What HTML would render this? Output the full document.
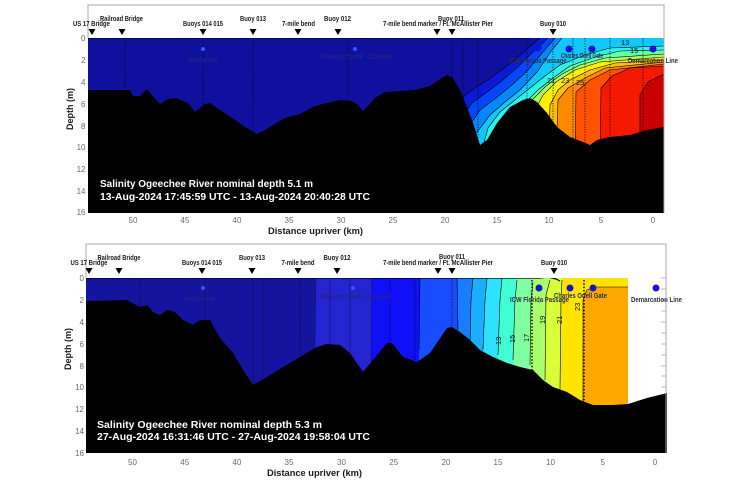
<!DOCTYPE html>
<html><head><meta charset="utf-8"><style>
html,body{margin:0;padding:0;background:#fff;}
svg{display:block;}
text{font-family:"Liberation Sans",Arial,sans-serif;}
.st{font-size:7px;font-weight:bold;fill:#1a1a1a;text-anchor:middle;}
.tk{font-size:8px;fill:#6a6a6a;}
.ax{font-size:9.5px;font-weight:bold;fill:#1a1a1a;}
.ti{font-size:10px;font-weight:bold;fill:#fff;}
.dl{font-size:7px;font-weight:bold;fill:#303040;text-anchor:middle;}
.cl{font-size:7.5px;fill:#111;}
</style></head><body>
<svg width="741" height="486" viewBox="0 0 741 486" xmlns="http://www.w3.org/2000/svg">
<defs>
<clipPath id="c1"><rect x="88" y="38" width="576" height="175"/></clipPath>
<clipPath id="c2"><rect x="86" y="278" width="542" height="175"/></clipPath>
</defs>
<rect width="741" height="486" fill="#fff"/>

<!-- ================= TOP PANEL ================= -->
<g clip-path="url(#c1)">
<rect x="88" y="38" width="576" height="175" fill="#10109e"/>
<polygon fill="#0a1ad6" points="540,38 528,48 512,62 495,75 478,86 465,95 458,105 458,213 664,213 664,38"/>
<polygon fill="#0048ff" points="548,38 535,50 520,65 503,80 487,92 472,103 462,118 462,213 664,213 664,38"/>
<polygon fill="#0088ff" points="555,38 543,52 528,70 512,85 496,98 480,110 468,128 468,213 664,213 664,38"/>
<polygon fill="#10c8ff" points="562,38 552,50 537,72 520,90 505,102 490,115 475,135 470,150 470,213 664,213 664,38"/>
<polygon fill="#2ef2e8" points="482,150 488,128 500,112 515,100 530,88 545,76 560,65 585,55 610,48 664,46 664,213 482,213"/>
<polygon fill="#64ffa8" points="512,160 514,120 523,105 538,90 553,78 570,66 595,57 620,51 664,50 664,213 512,213"/>
<polygon fill="#a8ff5c" points="522,160 524,115 532,100 546,86 562,74 580,65 605,58 664,54 664,213 522,213"/>
<polygon fill="#fff000" points="533,160 535,110 543,95 556,82 575,70 600,62 664,57 664,213 533,213"/>
<polygon fill="#ffc000" points="548,160 550,105 558,90 570,80 590,70 615,63 664,60 664,213 548,213"/>
<polygon fill="#ff8a00" points="556,160 558,100 568,88 585,78 605,68 664,62 664,213 556,213"/>
<polygon fill="#ff5200" points="575,160 576,92 590,80 610,70 664,64 664,213 575,213"/>
<polygon fill="#f41a00" points="600,160 601,88 612,76 630,68 664,66 664,213 600,213"/>
<polygon fill="#c80000" points="640,160 640,95 648,82 664,74 664,213 640,213"/>
<g fill="none" stroke="#000" stroke-width="0.6">
<polyline points="540,38 528,48 512,62 495,75 478,86 465,95 458,105"/>
<polyline points="548,38 535,50 520,65 503,80 487,92 472,103 462,118"/>
<polyline points="555,38 543,52 528,70 512,85 496,98 480,110 468,128"/>
<polyline points="562,38 552,50 537,72 520,90 505,102 490,115 475,135 470,150"/>
<polyline points="482,150 488,128 500,112 515,100 530,88 545,76 560,65 585,55 610,48 664,46"/>
<polyline points="512,160 514,120 523,105 538,90 553,78 570,66 595,57 620,51 664,50"/>
<polyline points="522,160 524,115 532,100 546,86 562,74 580,65 605,58 664,54"/>
<polyline points="533,160 535,110 543,95 556,82 575,70 600,62 664,57"/>
<polyline points="548,160 550,105 558,90 570,80 590,70 615,63 664,60"/>
<polyline points="556,160 558,100 568,88 585,78 605,68 664,62"/>
<polyline points="575,160 576,92 590,80 610,70 664,64"/>
<polyline points="600,160 601,88 612,76 630,68 664,66"/>
<polyline points="640,160 640,95 648,82 664,74"/>
<polyline points="88,38 530,38" stroke-width="1"/>
</g>
<g stroke="#000" stroke-width="0.9" stroke-dasharray="1.2 1.4" opacity="0.85">
<line x1="125" y1="38" x2="125" y2="213"/><line x1="203" y1="38" x2="203" y2="213"/>
<line x1="253" y1="38" x2="253" y2="213"/><line x1="348" y1="38" x2="348" y2="213"/>
<line x1="452" y1="38" x2="452" y2="213"/><line x1="463" y1="38" x2="463" y2="213"/>
<line x1="478" y1="38" x2="478" y2="213"/><line x1="527" y1="38" x2="527" y2="213"/>
<line x1="553" y1="38" x2="553" y2="213"/><line x1="573" y1="38" x2="573" y2="213"/>
<line x1="585" y1="38" x2="585" y2="213"/><line x1="610" y1="38" x2="610" y2="213"/>
<line x1="643" y1="38" x2="643" y2="213"/>
</g>
<text class="cl" x="621" y="45">13</text>
<text class="cl" x="630" y="53">15</text>
<text class="cl" x="547" y="83">21</text>
<text class="cl" x="561" y="83">23</text>
<text class="cl" x="576" y="85">25</text>
<!-- dots -->
<circle cx="203" cy="49" r="2" fill="#3a55ff"/>
<circle cx="355" cy="49" r="2" fill="#3a55ff"/>
<circle cx="538" cy="48" r="3.5" fill="#1414d0"/>
<circle cx="569" cy="49" r="3.5" fill="#1414d0"/>
<circle cx="592" cy="49" r="3.5" fill="#1414d0"/>
<circle cx="653" cy="49" r="3.5" fill="#1414d0"/>
<text class="dl" x="203" y="62" textLength="29" lengthAdjust="spacingAndGlyphs" style="fill:#24248a">Hardwicke</text>
<text class="dl" x="356" y="59" textLength="72" lengthAdjust="spacingAndGlyphs" style="fill:#24248a">Kilkenny Creek - Channel</text>
<text class="dl" x="538" y="63" textLength="57" lengthAdjust="spacingAndGlyphs">ICW Florida Passage</text>
<text class="dl" x="582" y="58" textLength="42" lengthAdjust="spacingAndGlyphs">Charles Odell Gate</text>
<!-- bathymetry -->
<polygon fill="#000" points="88,90 130,90 133,96 140,96 147,89 153,96 160,104 168,99 176,98 188,103 195,112 205,104 210,103 217,108 225,113 235,120 245,127 257,134 265,130 273,125 285,118 300,114 315,106 327,103 340,100 352,101 358,105 363,111 368,106 375,98 385,92 400,91 415,90 430,86 440,79 447,75 453,78 460,90 467,107 473,123 480,145 487,140 497,123 510,107 523,100 530,98 537,102 547,113 557,127 570,137 583,142 590,145 597,140 610,137 630,135 647,130 664,127 664,213 88,213"/>
</g>
<text class="dl" x="653" y="63" textLength="50" lengthAdjust="spacingAndGlyphs">Demarcation Line</text>
<!-- frame -->
<g stroke="#a8a8a8" stroke-width="1" fill="none">
<polyline points="88,38 88,5 664,5 664,213"/>
</g>
<!-- station markers -->
<g fill="#000">
<polygon points="88.5,29 95.5,29 92,35"/><polygon points="118.5,29 125.5,29 122,35"/>
<polygon points="199.5,29 206.5,29 203,35"/><polygon points="249.5,29 256.5,29 253,35"/>
<polygon points="294.5,29 301.5,29 298,35"/><polygon points="334.5,29 341.5,29 338,35"/>
<polygon points="433.5,29 440.5,29 437,35"/><polygon points="448.5,29 455.5,29 452,35"/>
<polygon points="549.5,29 556.5,29 553,35"/>
</g>
<text class="st" x="91.5" y="26" textLength="37" lengthAdjust="spacingAndGlyphs">US 17 Bridge</text>
<text class="st" x="121.5" y="21" textLength="43" lengthAdjust="spacingAndGlyphs">Railroad Bridge</text>
<text class="st" x="203" y="26" textLength="40" lengthAdjust="spacingAndGlyphs">Buoys 014 015</text>
<text class="st" x="253" y="21" textLength="26" lengthAdjust="spacingAndGlyphs">Buoy 013</text>
<text class="st" x="298.5" y="26" textLength="33" lengthAdjust="spacingAndGlyphs">7-mile bend</text>
<text class="st" x="337.5" y="21" textLength="27" lengthAdjust="spacingAndGlyphs">Buoy 012</text>
<text class="st" x="438" y="26" textLength="110" lengthAdjust="spacingAndGlyphs">7-mile bend marker / Ft. McAllister Pier</text>
<text class="st" x="451" y="21" textLength="26" lengthAdjust="spacingAndGlyphs">Buoy 011</text>
<text class="st" x="553" y="26" textLength="26" lengthAdjust="spacingAndGlyphs">Buoy 010</text>
<!-- titles -->
<text class="ti" x="100" y="187" textLength="213" lengthAdjust="spacingAndGlyphs">Salinity Ogeechee River nominal depth 5.1 m</text>
<text class="ti" x="100" y="200" textLength="270" lengthAdjust="spacingAndGlyphs">13-Aug-2024 17:45:59 UTC - 13-Aug-2024 20:40:28 UTC</text>
<!-- y ticks -->
<g class="tk" text-anchor="end">
<text x="85.5" y="41">0</text><text x="85.5" y="63">2</text><text x="85.5" y="85">4</text>
<text x="85.5" y="107">6</text><text x="85.5" y="129">8</text><text x="85.5" y="150">10</text>
<text x="85.5" y="172">12</text><text x="85.5" y="194">14</text><text x="85.5" y="215">16</text>
</g>
<g class="tk" text-anchor="middle">
<text x="133" y="223">50</text><text x="185" y="223">45</text><text x="237" y="223">40</text>
<text x="289" y="223">35</text><text x="341" y="223">30</text><text x="393" y="223">25</text>
<text x="445" y="223">20</text><text x="497" y="223">15</text><text x="549" y="223">10</text>
<text x="601" y="223">5</text><text x="653" y="223">0</text>
</g>
<text class="ax" x="315.5" y="234" text-anchor="middle" textLength="95" lengthAdjust="spacingAndGlyphs">Distance upriver (km)</text>
<text class="ax" transform="translate(73,109) rotate(-90)" text-anchor="middle" style="font-size:9px">Depth (m)</text>

<!-- ================= BOTTOM PANEL ================= -->
<g stroke="#a8a8a8" stroke-width="0.8">
<line x1="661" y1="278" x2="666" y2="278"/><line x1="661" y1="289" x2="666" y2="289"/>
<line x1="661" y1="300" x2="666" y2="300"/><line x1="661" y1="311" x2="666" y2="311"/>
<line x1="661" y1="322" x2="666" y2="322"/><line x1="661" y1="333" x2="666" y2="333"/>
<line x1="661" y1="344" x2="666" y2="344"/><line x1="661" y1="355" x2="666" y2="355"/>
<line x1="661" y1="366" x2="666" y2="366"/><line x1="661" y1="376" x2="666" y2="376"/>
<line x1="661" y1="387" x2="666" y2="387"/>
</g>
<g clip-path="url(#c2)">
<rect x="86" y="278" width="542" height="175" fill="#14149e"/>
<polygon fill="#2424d0" points="316,278 314,400 314,453 628,453 628,278"/>
<polygon fill="#1010f8" points="372,278 371,400 371,453 628,453 628,278"/>
<polygon fill="#1a4cff" points="420,278 419,350 419,453 628,453 628,278"/>
<polygon fill="#1a7cff" points="457,278 458,330 458,453 628,453 628,278"/>
<polygon fill="#1ab0ff" points="473,278 471,300 470,345 470,453 628,453 628,278"/>
<polygon fill="#2ee2ff" points="487,278 485,300 483,350 483,453 628,453 628,278"/>
<polygon fill="#40ffd4" points="502,278 500,300 498,355 498,453 628,453 628,278"/>
<polygon fill="#80ffa0" points="517,280 515,300 513,360 513,453 628,453 628,278 517,278"/>
<polygon fill="#aaff6c" points="533,282 531,300 530,365 530,453 628,453 628,278 533,278"/>
<polygon fill="#d8ff3a" points="550,280 546,295 545,380 545,453 628,453 628,278 550,278"/>
<polygon fill="#ffe400" points="562,280 561,300 560,390 560,453 628,453 628,278 562,278"/>
<polygon fill="#ffa800" points="583,453 583,300 587,290 595,287 628,287 628,453"/>
<g fill="none" stroke="#000" stroke-width="0.6">
<polyline points="316,278 314,400" stroke-opacity="0.4"/>
<polyline points="372,278 371,400" stroke-opacity="0.5"/>
<polyline points="420,278 419,350"/>
<polyline points="457,278 458,330"/>
<polyline points="473,278 471,300 470,345"/>
<polyline points="487,278 485,300 483,350"/>
<polyline points="502,278 500,300 498,355"/>
<polyline points="517,280 515,300 513,360"/>
<polyline points="533,282 531,300 530,365"/>
<polyline points="550,280 546,295 545,380"/>
<polyline points="562,280 561,300 560,390"/>
<polyline points="583,453 583,300 587,290 595,287 628,287"/>
<polyline points="86,278 540,278 548,277 556,279 560,281" stroke-width="1.2"/>
</g>
<g stroke="#000" stroke-width="0.9" stroke-dasharray="1.2 1.4" opacity="0.7">
<line x1="140" y1="278" x2="140" y2="453"/><line x1="205" y1="278" x2="205" y2="453"/>
<line x1="253" y1="278" x2="253" y2="453"/><line x1="263" y1="278" x2="263" y2="453"/>
<line x1="300" y1="278" x2="300" y2="453"/><line x1="330" y1="278" x2="330" y2="453"/>
<line x1="350" y1="278" x2="350" y2="453"/><line x1="390" y1="278" x2="390" y2="453"/>
<line x1="415" y1="278" x2="415" y2="453"/><line x1="452" y1="278" x2="452" y2="453"/>
</g>
<g stroke="#000" stroke-width="1.4" stroke-dasharray="1.5 1.8">
<line x1="532" y1="280" x2="532" y2="453"/><line x1="584" y1="280" x2="584" y2="453"/>
</g>
<text class="cl" transform="translate(501,345) rotate(-90)">13</text>
<text class="cl" transform="translate(515,343) rotate(-90)">15</text>
<text class="cl" transform="translate(529,342) rotate(-90)">17</text>
<text class="cl" transform="translate(545,324) rotate(-90)">19</text>
<text class="cl" transform="translate(562,324) rotate(-90)">21</text>
<text class="cl" transform="translate(580,311) rotate(-90)">23</text>
<circle cx="203" cy="288" r="2" fill="#3a55ff"/>
<circle cx="353" cy="288" r="2" fill="#3a55ff"/>
<text class="dl" x="200" y="301" textLength="31" lengthAdjust="spacingAndGlyphs" style="fill:#24248a">Hardwicke</text>
<text class="dl" x="355" y="299" textLength="71" lengthAdjust="spacingAndGlyphs" style="fill:#24248a">Kilkenny Creek - Channel</text>
<polygon fill="#000" points="86,301 127,300 132,303 140,307 147,305 153,312 160,315 167,310 175,312 183,320 193,325 200,320 210,320 220,338 233,353 243,370 253,385 267,377 283,367 300,357 317,347 327,344 340,345 350,353 363,372 373,360 387,343 392,343 403,357 417,362 430,353 447,328 452,327 460,332 470,340 480,350 493,357 507,363 520,367 533,370 543,380 553,387 567,392 580,400 593,405 613,405 628,404 647,398 667,393 667,453 86,453"/>
</g>
<polygon fill="#000" points="628,404 647,398 667,393 667,453 628,453"/>
<circle cx="539" cy="288" r="3.5" fill="#1414d0"/>
<circle cx="570" cy="288" r="3.5" fill="#1414d0"/>
<circle cx="593" cy="288" r="3.5" fill="#1414d0"/>
<circle cx="656" cy="288" r="3.5" fill="#1414d0"/>
<text class="dl" x="539.5" y="302" textLength="59" lengthAdjust="spacingAndGlyphs">ICW Florida Passage</text>
<text class="dl" x="580.5" y="298" textLength="53" lengthAdjust="spacingAndGlyphs">Charles Odell Gate</text>
<text class="dl" x="656.5" y="302" textLength="51" lengthAdjust="spacingAndGlyphs">Demarcation Line</text>
<g stroke="#a8a8a8" stroke-width="1" fill="none">
<polyline points="86,278 86,244 666,244 666,453"/>
</g>
<g fill="#000">
<polygon points="85.5,268 92.5,268 89,274"/><polygon points="115.5,268 122.5,268 119,274"/>
<polygon points="198.5,268 205.5,268 202,274"/><polygon points="248.5,268 255.5,268 252,274"/>
<polygon points="294.5,268 301.5,268 298,274"/><polygon points="333.5,268 340.5,268 337,274"/>
<polygon points="434.5,268 441.5,268 438,274"/><polygon points="448.5,268 455.5,268 452,274"/>
<polygon points="550.5,268 557.5,268 554,274"/>
</g>
<text class="st" x="89" y="265" textLength="37" lengthAdjust="spacingAndGlyphs">US 17 Bridge</text>
<text class="st" x="119" y="260" textLength="43" lengthAdjust="spacingAndGlyphs">Railroad Bridge</text>
<text class="st" x="202" y="265" textLength="40" lengthAdjust="spacingAndGlyphs">Buoys 014 015</text>
<text class="st" x="252" y="260" textLength="26" lengthAdjust="spacingAndGlyphs">Buoy 013</text>
<text class="st" x="298" y="265" textLength="33" lengthAdjust="spacingAndGlyphs">7-mile bend</text>
<text class="st" x="337" y="260" textLength="27" lengthAdjust="spacingAndGlyphs">Buoy 012</text>
<text class="st" x="438" y="265" textLength="110" lengthAdjust="spacingAndGlyphs">7-mile bend marker / Ft. McAllister Pier</text>
<text class="st" x="452" y="259" textLength="26" lengthAdjust="spacingAndGlyphs">Buoy 011</text>
<text class="st" x="554" y="265" textLength="26" lengthAdjust="spacingAndGlyphs">Buoy 010</text>
<text class="ti" x="97" y="428" textLength="225" lengthAdjust="spacingAndGlyphs">Salinity Ogeechee River nominal depth 5.3 m</text>
<text class="ti" x="97" y="440" textLength="273" lengthAdjust="spacingAndGlyphs">27-Aug-2024 16:31:46 UTC - 27-Aug-2024 19:58:04 UTC</text>
<g class="tk" text-anchor="end">
<text x="84" y="281">0</text><text x="84" y="303">2</text><text x="84" y="325">4</text>
<text x="84" y="347">6</text><text x="84" y="369">8</text><text x="84" y="390">10</text>
<text x="84" y="412">12</text><text x="84" y="434">14</text><text x="84" y="456">16</text>
</g>
<g class="tk" text-anchor="middle">
<text x="132.5" y="465">50</text><text x="184.75" y="465">45</text><text x="237" y="465">40</text>
<text x="289" y="465">35</text><text x="341.5" y="465">30</text><text x="393.75" y="465">25</text>
<text x="446" y="465">20</text><text x="498" y="465">15</text><text x="550.5" y="465">10</text>
<text x="602.75" y="465">5</text><text x="655" y="465">0</text>
</g>
<text class="ax" x="314.5" y="476" text-anchor="middle" textLength="95" lengthAdjust="spacingAndGlyphs">Distance upriver (km)</text>
<text class="ax" transform="translate(71,349) rotate(-90)" text-anchor="middle" style="font-size:9px">Depth (m)</text>
</svg>
</body></html>
